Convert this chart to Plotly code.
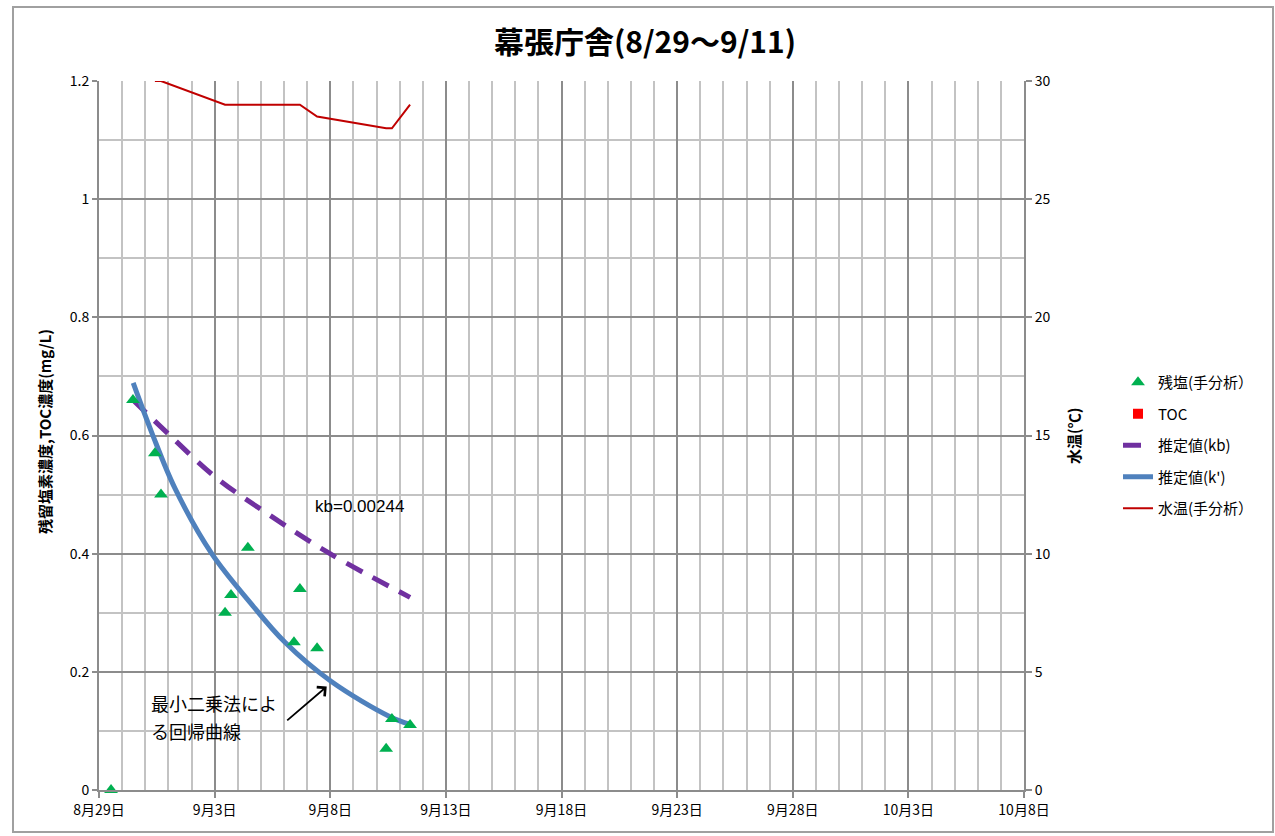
import plotly.graph_objects as go

# --- measured residual chlorine (hand analysis) ---
sample_times = [
    "2013-08-29 12:30", "2013-08-30 11:15", "2013-08-31 10:00", "2013-08-31 16:20",
    "2013-09-03 10:50", "2013-09-03 17:00", "2013-09-04 10:30", "2013-09-06 10:20",
    "2013-09-06 16:30", "2013-09-07 10:20", "2013-09-10 10:00", "2013-09-10 16:00",
    "2013-09-11 10:50",
]
residual_cl = [0.0, 0.66, 0.57, 0.50, 0.30, 0.33, 0.41, 0.25, 0.34, 0.24, 0.07, 0.12, 0.11]

# --- water temperature (hand analysis), right axis ---
temp_times = sample_times[2:]
water_temp = [30, 30, 29, 29, 29, 29, 29, 28.5, 28, 28, 29]

# --- estimated decay with kb ---
kb_times = ["2013-08-30 11:15", "2013-09-01 01:40", "2013-09-03 00:30",
            "2013-09-05 09:20", "2013-09-07 23:45", "2013-09-11 10:50"]
kb_values = [0.66, 0.60, 0.53, 0.465, 0.40, 0.326]

# --- least-squares regression curve (k') ---
kp_times = ["2013-08-30 11:30", "2013-08-31 06:45", "2013-09-01 07:00",
            "2013-09-02 21:00", "2013-09-04 12:30", "2013-09-06 01:00",
            "2013-09-08 00:45", "2013-09-10 14:00", "2013-09-11 10:50"]
kp_values = [0.689, 0.605, 0.510, 0.400, 0.318, 0.250, 0.184, 0.124, 0.111]

# --- TOC (no measurements in this period) ---
toc_times = [None]
toc_values = [None]

title_text = "幕張庁舎(8/29～9/11)"
y_left_title = "残留塩素濃度,TOC濃度(mg/L)"
y_right_title = "水温(℃)"
kb_label = "kb=0.00244"
reg_label = ["最小二乗法によ", "る回帰曲線"]

FONT = "Noto Sans CJK JP, sans-serif"
DAY_MS = 86400000

fig = go.Figure()

fig.add_trace(go.Scatter(
    x=kb_times, y=kb_values, name="推定値(kb)", mode="lines",
    line=dict(color="#7030a0", width=5, dash="18px,12px", shape="spline"),
    legendgroup="c", legendrank=3,
))
fig.add_trace(go.Scatter(
    x=kp_times, y=kp_values, name="推定値(k')", mode="lines",
    line=dict(color="#4f81bd", width=5, shape="spline"),
    legendgroup="d", legendrank=4,
))
fig.add_trace(go.Scatter(
    x=temp_times, y=water_temp, name="水温(手分析）", mode="lines",
    line=dict(color="#c00000", width=2),
    yaxis="y2", cliponaxis=False, legendgroup="e", legendrank=5,
))
fig.add_trace(go.Scatter(
    x=sample_times, y=residual_cl, name="残塩(手分析）", mode="markers",
    marker=dict(symbol="triangle-up", size=12, color="#00b050"),
    cliponaxis=False, legendgroup="a", legendrank=1,
))
fig.add_trace(go.Scatter(
    x=toc_times, y=toc_values, name="TOC", mode="markers",
    marker=dict(symbol="square", size=10, color="#ff0000"),
    legendgroup="b", legendrank=2,
))

axis_line = "#8c8c8c"
major_grid = "#8c8c8c"
minor_grid = "#c3c3c3"

fig.update_layout(
    width=1275, height=836,
    margin=dict(l=99, r=251, t=81, b=46),
    paper_bgcolor="white", plot_bgcolor="white",
    font=dict(family=FONT, size=14, color="#000000"),
    title=dict(text=f"<b>{title_text}</b>", x=645 / 1275, y=1 - 42 / 836,
               xref="container", yref="container",
               xanchor="center", yanchor="middle",
               font=dict(family=FONT, size=30, color="#000000")),
    xaxis=dict(
        type="date",
        range=["2013-08-29", "2013-10-08"],
        tick0="2013-08-29", dtick=5 * DAY_MS,
        tickformat="%-m月%-d日",
        showgrid=True, gridcolor=major_grid, gridwidth=2,
        minor=dict(dtick=DAY_MS, tick0="2013-08-29", showgrid=True,
                   gridcolor=minor_grid, gridwidth=2, ticks=""),
        showline=True, linecolor=axis_line, linewidth=2,
        ticks="outside", ticklen=6, tickwidth=2, tickcolor=axis_line,
        tickfont=dict(size=14), zeroline=False,
    ),
    yaxis=dict(
        range=[0, 1.2], dtick=0.2, tickformat="~g",
        showgrid=True, gridcolor=major_grid, gridwidth=2,
        minor=dict(dtick=0.1, showgrid=True, gridcolor=minor_grid, gridwidth=2, ticks=""),
        showline=True, linecolor=axis_line, linewidth=2,
        ticks="outside", ticklen=5, tickwidth=2, tickcolor=axis_line,
        tickfont=dict(size=14), zeroline=False,
    ),
    yaxis2=dict(
        range=[0, 30], dtick=5, overlaying="y", side="right",
        showgrid=False, zeroline=False,
        showline=True, linecolor=axis_line, linewidth=2,
        ticks="outside", ticklen=6, tickwidth=2, tickcolor=axis_line,
        tickfont=dict(size=14),
    ),
    legend=dict(
        x=(1118 - 99) / 925, y=(790 - 366) / 709,
        xanchor="left", yanchor="top",
        font=dict(size=15), tracegroupgap=9,
        bgcolor="rgba(0,0,0,0)", traceorder="grouped",
    ),
    showlegend=True,
)

# chart outer border
fig.add_shape(type="rect", xref="paper", yref="paper",
              x0=(13 - 99) / 925, x1=(1273 - 99) / 925,
              y0=(790 - 832) / 709, y1=(790 - 7) / 709,
              line=dict(color="#a0a0a0", width=2), layer="below")

# axis titles
fig.add_annotation(text=f"<b>{y_left_title}</b>", xref="paper", yref="paper",
                   x=(44 - 99) / 925, y=(790 - 432) / 709, textangle=-90,
                   showarrow=False, font=dict(size=15),
                   xanchor="center", yanchor="middle")
fig.add_annotation(text=f"<b>{y_right_title}</b>", xref="paper", yref="paper",
                   x=(1073 - 99) / 925, y=(790 - 436) / 709, textangle=-90,
                   showarrow=False, font=dict(size=15),
                   xanchor="center", yanchor="middle")

# kb label
fig.add_annotation(text=kb_label, x="2013-09-07 06:00", y=0.479,
                   xanchor="left", yanchor="middle", showarrow=False,
                   font=dict(family="Liberation Sans, Arial, sans-serif", size=17))

# regression label (two lines) and arrow
fig.add_annotation(text=reg_label[0], x="2013-08-31 03:30", y=0.148,
                   xanchor="left", yanchor="middle", showarrow=False,
                   font=dict(size=18))
fig.add_annotation(text=reg_label[1], x="2013-08-31 03:30", y=0.100,
                   xanchor="left", yanchor="middle", showarrow=False,
                   font=dict(size=18))
fig.add_annotation(text="", x="2013-09-07 20:20", y=0.175,
                   ax=-41, ay=35, showarrow=True, arrowhead=4,
                   arrowsize=1.3, arrowwidth=1.8, arrowcolor="#000000")

fig.write_html("out.html")
